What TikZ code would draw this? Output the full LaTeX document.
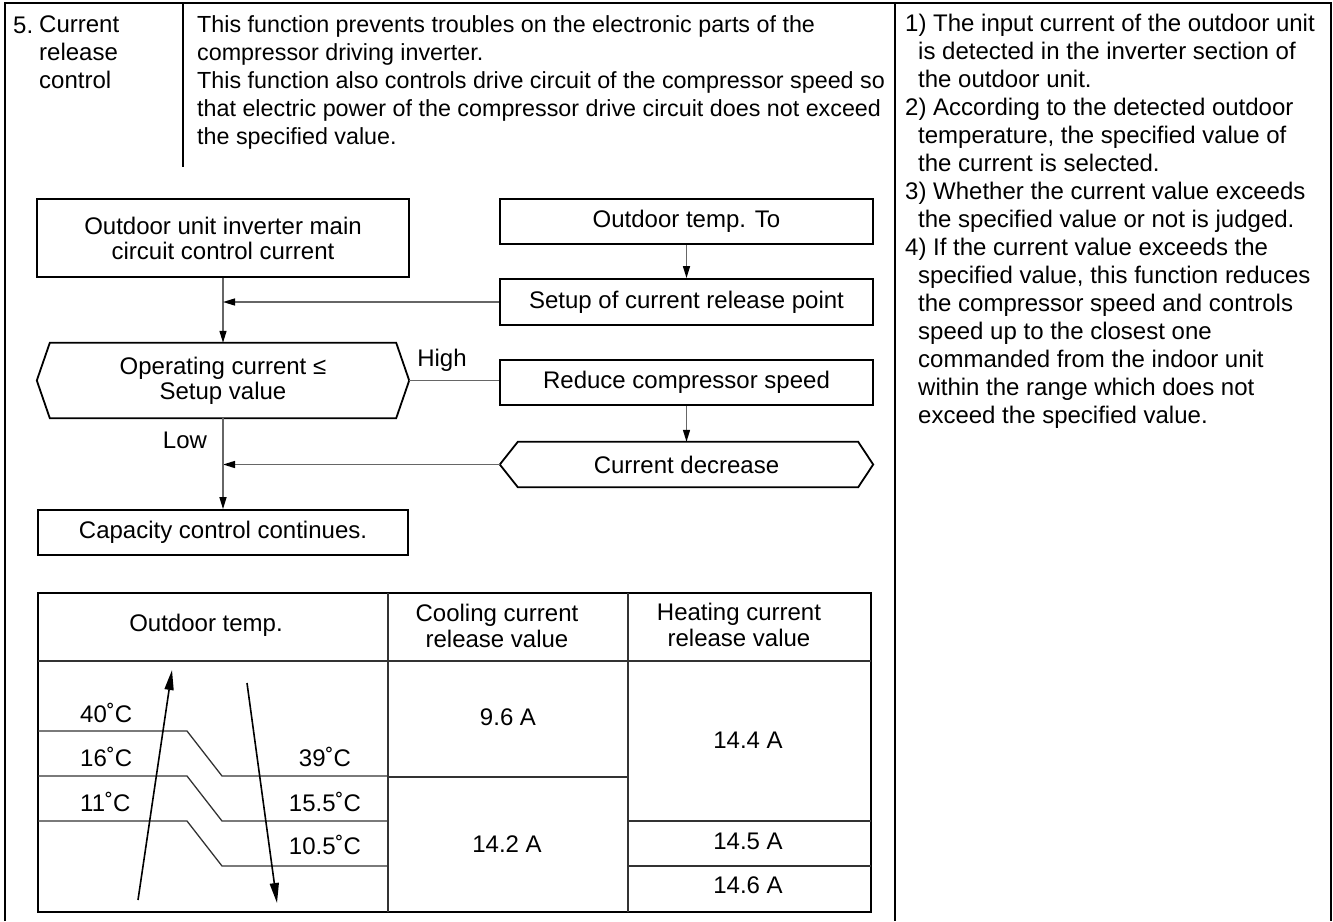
\documentclass[tikz,border=0pt]{standalone}
\usepackage{fontspec}
\setmainfont{Liberation Sans}
\usetikzlibrary{arrows.meta}
\begin{document}
\begin{tikzpicture}[x=1pt,y=-1pt]
        \tikzset{frame line/.style={draw=black, line width=2.5pt},
            body text/.style={inner sep=0pt, align=left, font=\fontsize{24}{28}\selectfont},
            flow box/.style={draw=black, line width=1.8pt, inner sep=0pt, align=center,
                font=\fontsize{24}{25}\selectfont},
            flow hex/.style={inner sep=0pt, align=center, font=\fontsize{24}{25}\selectfont},
            hex outline/.style={draw=black, line width=1.8pt, line join=miter},
            flow link/.style={draw=black!60, line width=1.4pt},
            flow arrow/.style={flow link, -{Triangle[length=12pt, width=7pt, color=black]}},
            table outer/.style={draw=black, line width=2.2pt},
            table inner/.style={draw=black!80, line width=1.3pt},
            cell text/.style={inner sep=0pt, align=center, font=\fontsize{24}{26}\selectfont},
            temp arrow/.style={draw=black, line width=1.6pt, -{Triangle[length=20pt, width=9pt]}}}

        \useasboundingbox (0,0) rectangle (1333,921);

        % outer frame and column rules
        \draw[frame line] (5,921) -- (5,3) -- (1331,3) -- (1331,921);
        \draw[frame line] (183,3) -- (183,167);
        \draw[frame line] (895,3) -- (895,921);

        % heading and description
        \node[body text, anchor=base west] (num) at (13,33) {5.};
        \node[body text, anchor=north west] (title) at (39,15.5) {Current\\release\\control};
        \node[body text, anchor=north west, font=\fontsize{23.3}{28}\selectfont] (desc) at (197,15.5)
            {This function prevents troubles on the electronic parts of the\\
             compressor driving inverter.\\
             This function also controls drive circuit of the compressor speed so\\
             that electric power of the compressor drive circuit does not exceed\\
             the specified value.};

        \node[body text, anchor=north west] (notes) at (905,13.5)
            {1) The input current of the outdoor unit\\
             \hspace*{13pt}is detected in the inverter section of\\
             \hspace*{13pt}the outdoor unit.\\
             2) According to the detected outdoor\\
             \hspace*{13pt}temperature, the specified value of\\
             \hspace*{13pt}the current is selected.\\
             3) Whether the current value exceeds\\
             \hspace*{13pt}the specified value or not is judged.\\
             4) If the current value exceeds the\\
             \hspace*{13pt}specified value, this function reduces\\
             \hspace*{13pt}the compressor speed and controls\\
             \hspace*{13pt}speed up to the closest one\\
             \hspace*{13pt}commanded from the indoor unit\\
             \hspace*{13pt}within the range which does not\\
             \hspace*{13pt}exceed the specified value.};

        % flow chart
        \node[flow box, minimum width=372pt, minimum height=78pt] (inv) at (223,238)
            {Outdoor unit inverter main\\circuit control current};
        \node[flow box, minimum width=373pt, minimum height=45pt] (otemp) at (686.5,221.5)
            {Outdoor temp. To};
        \node[flow box, minimum width=373pt, minimum height=46pt] (setup) at (686.5,302)
            {Setup of current release point};
        \node[flow hex, minimum width=372pt, minimum height=75pt] (judge) at (223,380.5)
            {Operating current ≤\\Setup value};
        \node[flow box, minimum width=373pt, minimum height=45pt] (reduce) at (686.5,382.5)
            {Reduce compressor speed};
        \node[flow hex, minimum width=373pt, minimum height=45pt] (decrease) at (686.5,464.5)
            {Current decrease};
        \node[flow box, minimum width=370pt, minimum height=45pt] (capacity) at (223,532.5)
            {Capacity control continues.};

        \draw[hex outline] (judge.west) -- ([xshift=13pt]judge.north west)
            -- ([xshift=-13pt]judge.north east) -- (judge.east)
            -- ([xshift=-13pt]judge.south east) -- ([xshift=13pt]judge.south west) -- cycle;
        \draw[hex outline] (decrease.west) -- ([xshift=18pt]decrease.north west)
            -- ([xshift=-15pt]decrease.north east) -- (decrease.east)
            -- ([xshift=-15pt]decrease.south east) -- ([xshift=18pt]decrease.south west) -- cycle;

        \draw[flow arrow] (inv.south) -- (judge.north);
        \draw[flow arrow] (setup.west) -- (setup.west -| inv.south);
        \draw[flow arrow] (otemp.south) -- (setup.north);
        \draw[flow link] (judge.east) -- (judge.east -| reduce.west);
        \draw[flow arrow] (reduce.south) -- (decrease.north);
        \draw[flow arrow] (decrease.west) -- (decrease.west -| capacity.north);
        \draw[flow arrow] (judge.south) -- (capacity.north);

        \node[body text] (high) at (442,360) {High};
        \node[body text] (low) at (185,440) {Low};

        % release value table
        \draw[table outer] (38,593) rectangle (871,912);
        \draw[table inner] (38,661) -- (871,661);
        \draw[table inner] (388,593) -- (388,912);
        \draw[table inner] (628,593) -- (628,912);
        \draw[table inner] (388,777) -- (628,777);
        \draw[table inner] (628,821) -- (871,821);
        \draw[table inner] (628,866) -- (871,866);
        \draw[table inner] (38,731) -- (187,731) -- (222,776) -- (388,776);
        \draw[table inner] (38,776) -- (187,776) -- (222,821) -- (388,821);
        \draw[table inner] (38,821) -- (187,821) -- (222,866) -- (388,866);

        \node[cell text] (hdtemp) at (206,625) {Outdoor temp.};
        \node[cell text] (hdcool) at (497,626) {Cooling current\\release value};
        \node[cell text] (hdheat) at (739,625) {Heating current\\release value};

        \node[cell text, anchor=west] (up40) at (80,713) {40˚C};
        \node[cell text, anchor=west] (up16) at (80,757) {16˚C};
        \node[cell text, anchor=west] (up11) at (80,802) {11˚C};
        \node[cell text] (dn39) at (325,757) {39˚C};
        \node[cell text] (dn155) at (325,802) {15.5˚C};
        \node[cell text] (dn105) at (325,845) {10.5˚C};

        \node[cell text] (cool96) at (508,717) {9.6 A};
        \node[cell text] (cool142) at (507,844) {14.2 A};
        \node[cell text] (heat144) at (748,740) {14.4 A};
        \node[cell text] (heat145) at (748,841) {14.5 A};
        \node[cell text] (heat146) at (748,885) {14.6 A};

        \coordinate (rise start) at (138,900);
        \coordinate (rise end) at (172,670);
        \coordinate (fall start) at (247,683);
        \coordinate (fall end) at (277,903);
        \draw[temp arrow] (rise start) -- (rise end);
        \draw[temp arrow] (fall start) -- (fall end);
    \end{tikzpicture}
\end{document}
